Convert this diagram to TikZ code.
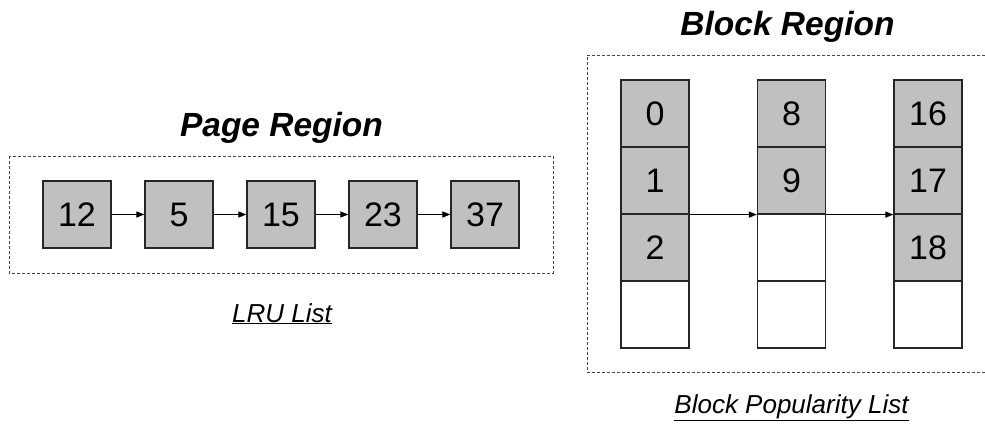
\documentclass[tikz,border=0pt]{standalone}
\usepackage{fontspec}
\setmainfont{Liberation Sans}
\usetikzlibrary{arrows.meta}
\definecolor{cellgray}{RGB}{192,192,192}
\definecolor{framegray}{RGB}{70,70,70}
\tikzset{
  cell/.style={draw=black!85, line width=1.2pt, minimum width=68pt, minimum height=67pt,
    inner sep=0pt, font=\fontsize{34}{34}\selectfont, anchor=center},
  full/.style={cell, fill=cellgray},
  empty/.style={cell, fill=white},
  link/.style={line width=1.1pt, -{Triangle[length=8pt,width=6pt]}},
  region/.style={draw=framegray, line width=1pt, dash pattern=on 3pt off 2pt},
  title/.style={font=\fontsize{33.5}{33.5}\selectfont\bfseries\itshape, anchor=base, inner sep=0pt},
  caption/.style={font=\fontsize{26}{26}\selectfont\itshape, anchor=base, inner sep=0pt}
}
\begin{document}
\begin{tikzpicture}[x=1pt, y=-1pt]
  \useasboundingbox (0,0) rectangle (985,423);

  % Page region: LRU list
  \node[title] (ptitle) at (281.5,136) {Page Region};
  \draw[region] (9,156) rectangle (553,273);
  \node[full] (p1) at (77,214.5) {12};
  \node[full] (p2) at (179,214.5) {5};
  \node[full] (p3) at (281,214.5) {15};
  \node[full] (p4) at (383,214.5) {23};
  \node[full] (p5) at (485,214.5) {37};
  \draw[link] (p1) -- (p2);
  \draw[link] (p2) -- (p3);
  \draw[link] (p3) -- (p4);
  \draw[link] (p4) -- (p5);
  \node[caption] (lru) at (282,322) {\underline{LRU List}};

  % Block region: popularity list of block columns
  \node[title] (btitle) at (787.5,35) {Block Region};
  \draw[region] (990,55) -- (587,55) -- (587,372) -- (990,372);

  \node[full]  (a0) at (655,113.5) {0};
  \node[full]  (a1) at (655,180.5) {1};
  \node[full]  (a2) at (655,247.5) {2};
  \node[empty] (a3) at (655,314.5) {};

  \node[full]  (b0) at (791.5,113.5) {8};
  \node[full]  (b1) at (791.5,180.5) {9};
  \node[empty] (b2) at (791.5,247.5) {};
  \node[empty] (b3) at (791.5,314.5) {};

  \node[full]  (c0) at (928,113.5) {16};
  \node[full]  (c1) at (928,180.5) {17};
  \node[full]  (c2) at (928,247.5) {18};
  \node[empty] (c3) at (928,314.5) {};

  \draw[link] (a1.south east) -- (b1.south west);
  \draw[link] (b1.south east) -- (c1.south west);

  \node[caption] (bpl) at (791.5,413) {\underline{Block Popularity List}};
\end{tikzpicture}
\end{document}
